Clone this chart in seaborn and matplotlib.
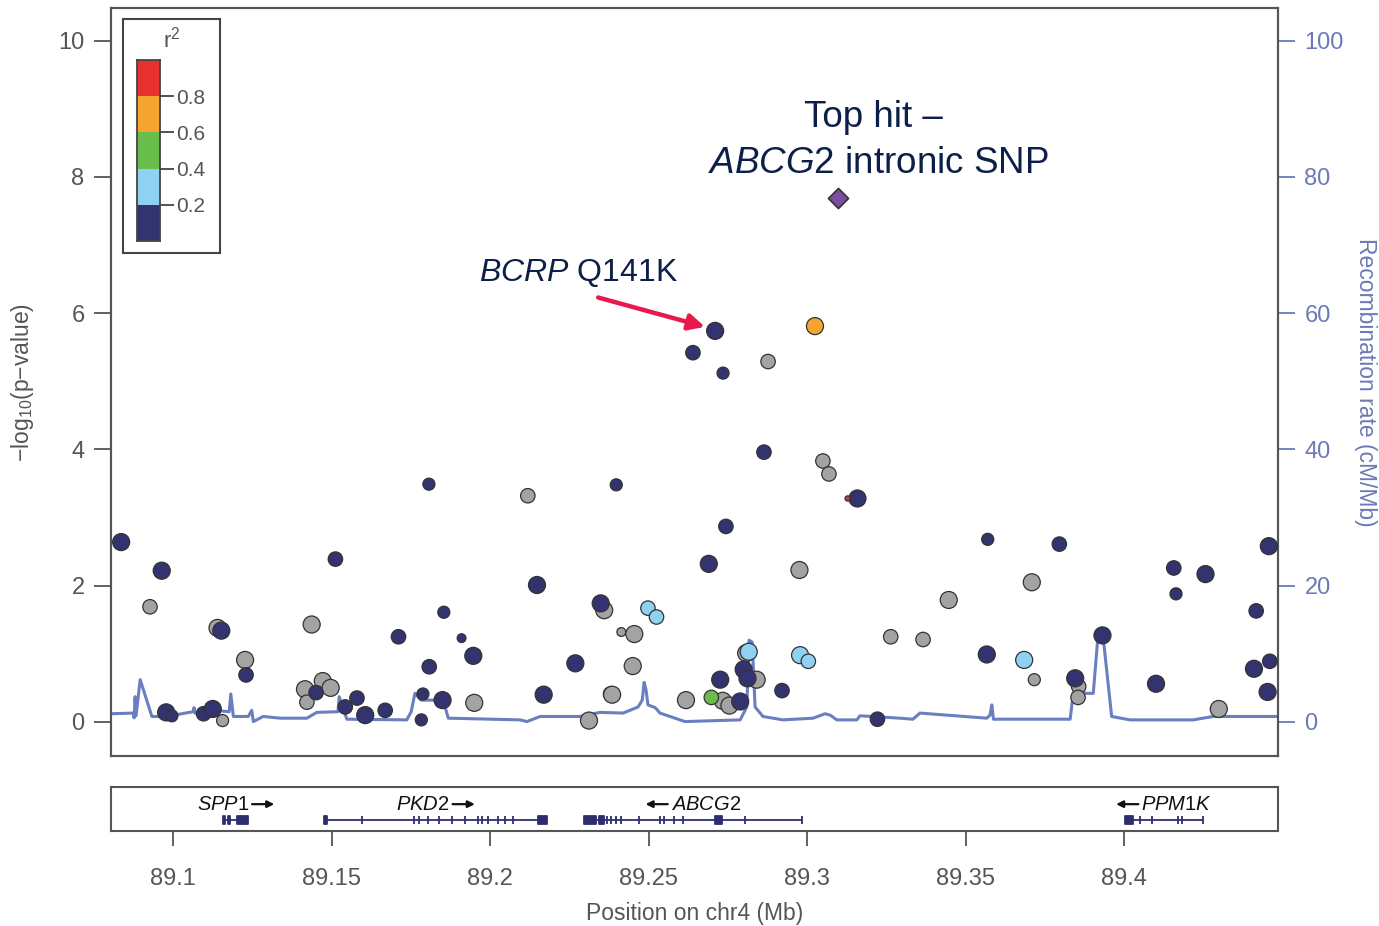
import numpy as np
import pandas as pd
import matplotlib
matplotlib.use('Agg')
import matplotlib.pyplot as plt
import seaborn as sns
from matplotlib.colors import ListedColormap
from matplotlib.patches import Rectangle
from matplotlib.text import OffsetFrom

# ---------------- data ----------------
snp_pos = [89.0836, 89.0964, 89.0927, 89.1140, 89.1152, 89.1227, 89.1230, 89.0978, 89.0996, 89.1096,
           89.1125, 89.1156, 89.1512, 89.1807, 89.1437, 89.1711, 89.1854, 89.1910, 89.1947, 89.1808,
           89.1416, 89.1472, 89.1497, 89.1451, 89.1422, 89.1543, 89.1580, 89.1606, 89.1669, 89.1788,
           89.1783, 89.1850, 89.1950, 89.2119, 89.2398, 89.2744, 89.2690, 89.2976, 89.2148, 89.2360,
           89.2349, 89.2498, 89.2525, 89.2414, 89.2455, 89.2269, 89.2450, 89.2169, 89.2380, 89.2385,
           89.2312, 89.2618, 89.2734, 89.2755, 89.2698, 89.2726, 89.2789, 89.2841, 89.2800, 89.2812,
           89.2808, 89.2816, 89.2921, 89.2978, 89.3004, 89.3264, 89.3222, 89.3159, 89.3128, 89.3050,
           89.3069, 89.3025, 89.2710, 89.2640, 89.2735, 89.2877, 89.2864, 89.3366, 89.3447, 89.3570,
           89.3567, 89.3709, 89.3796, 89.3685, 89.3717, 89.3846, 89.3857, 89.3855, 89.3932, 89.4157,
           89.4164, 89.4257, 89.4417, 89.4457, 89.4460, 89.4410, 89.4453, 89.4299, 89.4101]
snp_logp = [2.64, 2.22, 1.69, 1.38, 1.34, 0.91, 0.69, 0.14, 0.09, 0.12,
            0.19, 0.02, 2.39, 3.49, 1.43, 1.25, 1.61, 1.23, 0.97, 0.81,
            0.48, 0.60, 0.50, 0.43, 0.29, 0.22, 0.35, 0.10, 0.17, 0.41,
            0.03, 0.32, 0.28, 3.32, 3.48, 2.87, 2.32, 2.23, 2.01, 1.64,
            1.74, 1.67, 1.54, 1.32, 1.29, 0.86, 0.82, 0.40, 0.41, 0.40,
            0.02, 0.32, 0.31, 0.24, 0.36, 0.62, 0.30, 0.62, 0.77, 0.64,
            1.01, 1.03, 0.46, 0.98, 0.89, 1.25, 0.04, 3.28, 3.28, 3.83,
            3.64, 5.81, 5.74, 5.42, 5.12, 5.29, 3.96, 1.21, 1.79, 2.68,
            0.99, 2.05, 2.61, 0.91, 0.62, 0.64, 0.52, 0.36, 1.27, 2.26,
            1.88, 2.17, 1.63, 2.58, 0.89, 0.78, 0.44, 0.19, 0.56]
snp_ld = ['navy', 'navy', 'grey', 'grey', 'navy', 'grey', 'navy', 'navy', 'navy', 'navy',
          'navy', 'grey', 'navy', 'navy', 'grey', 'navy', 'navy', 'navy', 'navy', 'navy',
          'grey', 'grey', 'grey', 'navy', 'grey', 'navy', 'navy', 'navy', 'navy', 'navy',
          'navy', 'navy', 'grey', 'grey', 'navy', 'navy', 'navy', 'grey', 'navy', 'grey',
          'navy', 'lightblue', 'lightblue', 'grey', 'grey', 'navy', 'grey', 'navy', 'grey', 'grey',
          'grey', 'grey', 'grey', 'grey', 'green', 'navy', 'navy', 'grey', 'navy', 'navy',
          'grey', 'lightblue', 'navy', 'lightblue', 'lightblue', 'grey', 'navy', 'navy', 'red', 'grey',
          'grey', 'orange', 'navy', 'navy', 'navy', 'grey', 'navy', 'grey', 'grey', 'navy',
          'navy', 'grey', 'navy', 'lightblue', 'grey', 'navy', 'grey', 'grey', 'navy', 'navy',
          'navy', 'navy', 'navy', 'navy', 'navy', 'navy', 'navy', 'grey', 'navy']
snp_size = ['L', 'L', 'M', 'L', 'L', 'L', 'M', 'L', 'S', 'M',
            'L', 'S', 'M', 'S', 'L', 'M', 'S', 'T', 'L', 'M',
            'L', 'L', 'L', 'M', 'M', 'M', 'M', 'L', 'M', 'S',
            'S', 'L', 'L', 'M', 'S', 'M', 'L', 'L', 'L', 'L',
            'L', 'M', 'M', 'T', 'L', 'L', 'L', 'L', 'M', 'L',
            'L', 'L', 'L', 'L', 'M', 'L', 'L', 'L', 'L', 'L',
            'L', 'L', 'M', 'L', 'M', 'M', 'M', 'L', 'X', 'M',
            'M', 'L', 'L', 'M', 'S', 'M', 'M', 'M', 'L', 'S',
            'L', 'L', 'M', 'L', 'S', 'L', 'M', 'M', 'L', 'M',
            'S', 'L', 'M', 'L', 'M', 'L', 'L', 'L', 'L']

top_pos = [89.3098]
top_logp = [7.69]

rec_pos = [89.0804, 89.0874, 89.0877, 89.0880, 89.0883, 89.0896, 89.0933, 89.0980, 89.1063, 89.1066,
           89.1069, 89.1106, 89.1177, 89.1182, 89.1190, 89.1237, 89.1248, 89.1253, 89.1284, 89.1338,
           89.1422, 89.1453, 89.1520, 89.1524, 89.1548, 89.1737, 89.1751, 89.1763, 89.1782, 89.1852,
           89.1868, 89.2095, 89.2116, 89.2158, 89.2284, 89.2347, 89.2420, 89.2467, 89.2480, 89.2486,
           89.2492, 89.2498, 89.2521, 89.2536, 89.2615, 89.2789, 89.2810, 89.2817, 89.2827, 89.2836,
           89.2861, 89.2924, 89.3019, 89.3057, 89.3073, 89.3094, 89.3157, 89.3167, 89.3293, 89.3334,
           89.3356, 89.3567, 89.3577, 89.3583, 89.3588, 89.3830, 89.3840, 89.3903, 89.3918, 89.3934,
           89.3961, 89.4019, 89.4218, 89.4281, 89.4486]
rec_rate = [1.2, 1.3, 0.6, 3.7, 0.9, 6.2, 0.8, 0.8, 1.5, 2.1,
            1.3, 1.8, 1.5, 4.1, 0.8, 0.8, 1.7, 0.05, 0.8, 0.55,
            0.55, 1.4, 1.5, 3.7, 0.4, 0.3, 1.5, 4.2, 3.2, 3.2,
            0.55, 0.3, 0.05, 0.8, 0.8, 1.4, 1.3, 2.2, 3.2, 5.8,
            4.7, 2.5, 2.1, 1.3, 0.05, 0.3, 2.2, 12.0, 11.7, 2.2,
            0.8, 0.3, 0.55, 1.2, 1.0, 0.3, 0.3, 0.9, 0.55, 0.4,
            1.3, 0.55, 1.0, 2.5, 0.4, 0.4, 4.2, 4.2, 12.7, 12.5,
            0.8, 0.3, 0.3, 0.8, 0.8]

gene_names = ['SPP1', 'PKD2', 'ABCG2', 'PPM1K']
gene_start = [89.1158, 89.1476, 89.2297, 89.4003]
gene_end = [89.1236, 89.2180, 89.2984, 89.4250]
gene_strand = ['+', '+', '-', '-']
exons_spp1 = [(89.1158, 89.1164), (89.1172, 89.1178), (89.1200, 89.1236)]
exons_pkd2 = [(89.1476, 89.1485), (89.1595, 89.1595), (89.1761, 89.1761), (89.1775, 89.1775),
              (89.1804, 89.1804), (89.1838, 89.1838), (89.1881, 89.1881), (89.1920, 89.1920),
              (89.1963, 89.1963), (89.1975, 89.1975), (89.1992, 89.1992), (89.2026, 89.2026),
              (89.2047, 89.2047), (89.2072, 89.2072), (89.2151, 89.2180)]
exons_abcg2 = [(89.2297, 89.2333), (89.2344, 89.2359), (89.2369, 89.2369), (89.2383, 89.2383),
               (89.2397, 89.2397), (89.2412, 89.2412), (89.2470, 89.2470), (89.2535, 89.2535),
               (89.2549, 89.2549), (89.2579, 89.2579), (89.2608, 89.2608), (89.2709, 89.2731),
               (89.2803, 89.2803), (89.2984, 89.2984)]
exons_ppm1k = [(89.4003, 89.4029), (89.4050, 89.4050), (89.4087, 89.4087), (89.4171, 89.4171),
               (89.4182, 89.4182), (89.4250, 89.4250)]
gene_exons = [exons_spp1, exons_pkd2, exons_abcg2, exons_ppm1k]

legend_ld = ['red', 'orange', 'green', 'lightblue', 'navy']
legend_ticks = ['0.8', '0.6', '0.4', '0.2']

x_ticks = [89.1, 89.15, 89.2, 89.25, 89.3, 89.35, 89.4]
x_ticklabels = ['89.1', '89.15', '89.2', '89.25', '89.3', '89.35', '89.4']

# ---------------- style ----------------
sns.set_style('ticks')
plt.rcParams['font.family'] = ['Liberation Sans', 'DejaVu Sans']
plt.rcParams['mathtext.fontset'] = 'custom'
plt.rcParams['mathtext.rm'] = 'Liberation Sans'
plt.rcParams['mathtext.it'] = 'Liberation Sans:italic'
plt.rcParams['mathtext.bf'] = 'Liberation Sans:bold'
plt.rcParams['mathtext.default'] = 'regular'

ld_colors = {'grey': '#a3a3a3', 'navy': '#33346f', 'lightblue': '#8fd1f0',
             'green': '#68bd4b', 'orange': '#f5a430', 'red': '#e8302e'}
size_map = {'L': 150, 'M': 108, 'S': 75, 'T': 40, 'X': 14}
ld_order = {'grey': 0, 'navy': 1, 'lightblue': 2, 'green': 3, 'orange': 4, 'red': 5}

frame_col = '#555555'
text_col = '#555555'
rec_col = '#6a7fc0'
rec_axis_col = '#6b7ab5'
annot_col = '#0c1f48'

XLIM = (89.0804, 89.4486)

fig = plt.figure(figsize=(13.79, 9.26), dpi=100)
ax = fig.add_axes([0.0805, 0.1836, 0.8463, 0.8078])
ax2 = ax.twinx()
axg = fig.add_axes([0.0805, 0.1026, 0.8463, 0.0475])

# recombination rate (behind points)
sns.lineplot(x=rec_pos, y=rec_rate, ax=ax2, color=rec_col, linewidth=2.2,
             estimator=None, sort=False)
ax.set_zorder(ax2.get_zorder() + 1)
ax.patch.set_visible(False)

# SNP points
df = pd.DataFrame({'pos': snp_pos, 'logp': snp_logp, 'ld': snp_ld, 'sz': snp_size})
df['rank'] = df['ld'].map(ld_order)
df = df.sort_values('rank', kind='stable')
sns.scatterplot(data=df, x='pos', y='logp', hue='ld', palette=ld_colors,
                size='sz', sizes=size_map, edgecolor='#333333', linewidth=0.9,
                legend=False, ax=ax, zorder=3)
sns.scatterplot(x=top_pos, y=top_logp, marker='D', s=105, color='#7a4f9f',
                edgecolor='#333333', linewidth=1.2, ax=ax, zorder=4, legend=False)

ax.set_xlim(*XLIM)
ax.set_ylim(-0.5, 10.48)
ax2.set_ylim(-5, 104.8)
ax.set_yticks([0, 2, 4, 6, 8, 10])
ax2.set_yticks([0, 20, 40, 60, 80, 100])
ax.set_xticks([])
ax.set_xlabel('')
ax2.set_xlabel('')
ax.tick_params(axis='y', direction='out', length=12, width=1.3, color=frame_col,
               labelcolor=text_col, labelsize=17, pad=7)
ax2.tick_params(axis='y', direction='out', length=12, width=1.3, color=rec_axis_col,
                labelcolor=rec_axis_col, labelsize=17, pad=7)
ax.set_ylabel('\u2212log$_{10}$(p\u2212value)', fontsize=16.5, color=text_col, labelpad=16)
ax2.set_ylabel('Recombination rate (cM/Mb)', fontsize=16.5, color=rec_axis_col,
               rotation=270, labelpad=24)
for a in (ax, ax2):
    for s in a.spines.values():
        s.set_visible(True)
        s.set_color(frame_col)
        s.set_linewidth(1.5)

# annotations
ax.text(89.3208, 8.87, 'Top hit \u2013', fontsize=26.5, color=annot_col,
        ha='center', va='center')
ax.text(89.3224, 8.20, r'$\it{ABCG2}$ intronic SNP', fontsize=26.5, color=annot_col,
        ha='center', va='center')
ax.text(89.2278, 6.59, r'$\it{BCRP}$ Q141K', fontsize=23, color=annot_col,
        ha='center', va='center')
ax.annotate('', xy=(89.2678, 5.80), xytext=(89.2341, 6.23),
            arrowprops=dict(arrowstyle='-|>', color='#e8194a', lw=3.2,
                            mutation_scale=24, shrinkA=0, shrinkB=0))

# gene track
gene_col = '#2e2e6e'
for name, gs, ge, strand, exons in zip(gene_names, gene_start, gene_end, gene_strand, gene_exons):
    axg.plot([gs, ge], [0.25, 0.25], color=gene_col, lw=1.3, solid_capstyle='butt')
    axg.broken_barh([(a, b - a) for a, b in exons], (0.16, 0.18),
                    facecolors=gene_col, edgecolors=gene_col, linewidth=1.3)
    shift = -9 if strand == '+' else 9
    t = axg.annotate('$\\it{%s}$' % name, xy=((gs + ge) / 2, 0.61), xytext=(shift, 0),
                     textcoords='offset points', fontsize=14.5, color='#111111',
                     ha='center', va='center')
    if strand == '+':
        ref = OffsetFrom(t, (1.0, 0.5))
        axg.annotate('', xy=(18, 0), xycoords=ref, xytext=(2, 0), textcoords=ref,
                     arrowprops=dict(arrowstyle='-|>', color='#111111', lw=1.6,
                                     mutation_scale=10, shrinkA=0, shrinkB=0))
    else:
        ref = OffsetFrom(t, (0.0, 0.5))
        axg.annotate('', xy=(-18, 0), xycoords=ref, xytext=(-2, 0), textcoords=ref,
                     arrowprops=dict(arrowstyle='-|>', color='#111111', lw=1.6,
                                     mutation_scale=10, shrinkA=0, shrinkB=0))
axg.set_xlim(*XLIM)
axg.set_ylim(0, 1)
axg.set_yticks([])
axg.set_xticks(x_ticks)
axg.set_xticklabels(x_ticklabels)
axg.tick_params(axis='x', direction='out', length=11, width=1.3, color=frame_col,
                labelcolor=text_col, labelsize=17, pad=15.5)
axg.set_xlabel('Position on chr4 (Mb)', fontsize=16.5, color=text_col, labelpad=9)
for s in axg.spines.values():
    s.set_visible(True)
    s.set_color(frame_col)
    s.set_linewidth(1.5)

# r^2 legend
fig.add_artist(Rectangle((0.0892, 0.7268), 0.0703, 0.2527, transform=fig.transFigure,
                         fill=False, edgecolor='#444444', linewidth=1.5, zorder=5))
axl = fig.add_axes([0.0993, 0.7397, 0.01668, 0.1955])
axl.set_zorder(10)
sns.heatmap(np.arange(len(legend_ld)).reshape(-1, 1),
            cmap=ListedColormap([ld_colors[c] for c in legend_ld]),
            cbar=False, ax=axl, linewidths=0)
axl.set_xticks([])
axl.yaxis.tick_right()
axl.set_yticks([1, 2, 3, 4])
axl.set_yticklabels(legend_ticks, rotation=0)
axl.tick_params(axis='y', direction='out', length=10, width=1.3, color='#444444',
                labelcolor=text_col, labelsize=15, pad=2, left=False, right=True)
for s in axl.spines.values():
    s.set_visible(True)
    s.set_color('#444444')
    s.set_linewidth(1.3)
fig.text(0.1247, 0.9568, 'r$^2$', fontsize=16, color=text_col, ha='center', va='center')

fig.savefig('out.png', dpi=100)
